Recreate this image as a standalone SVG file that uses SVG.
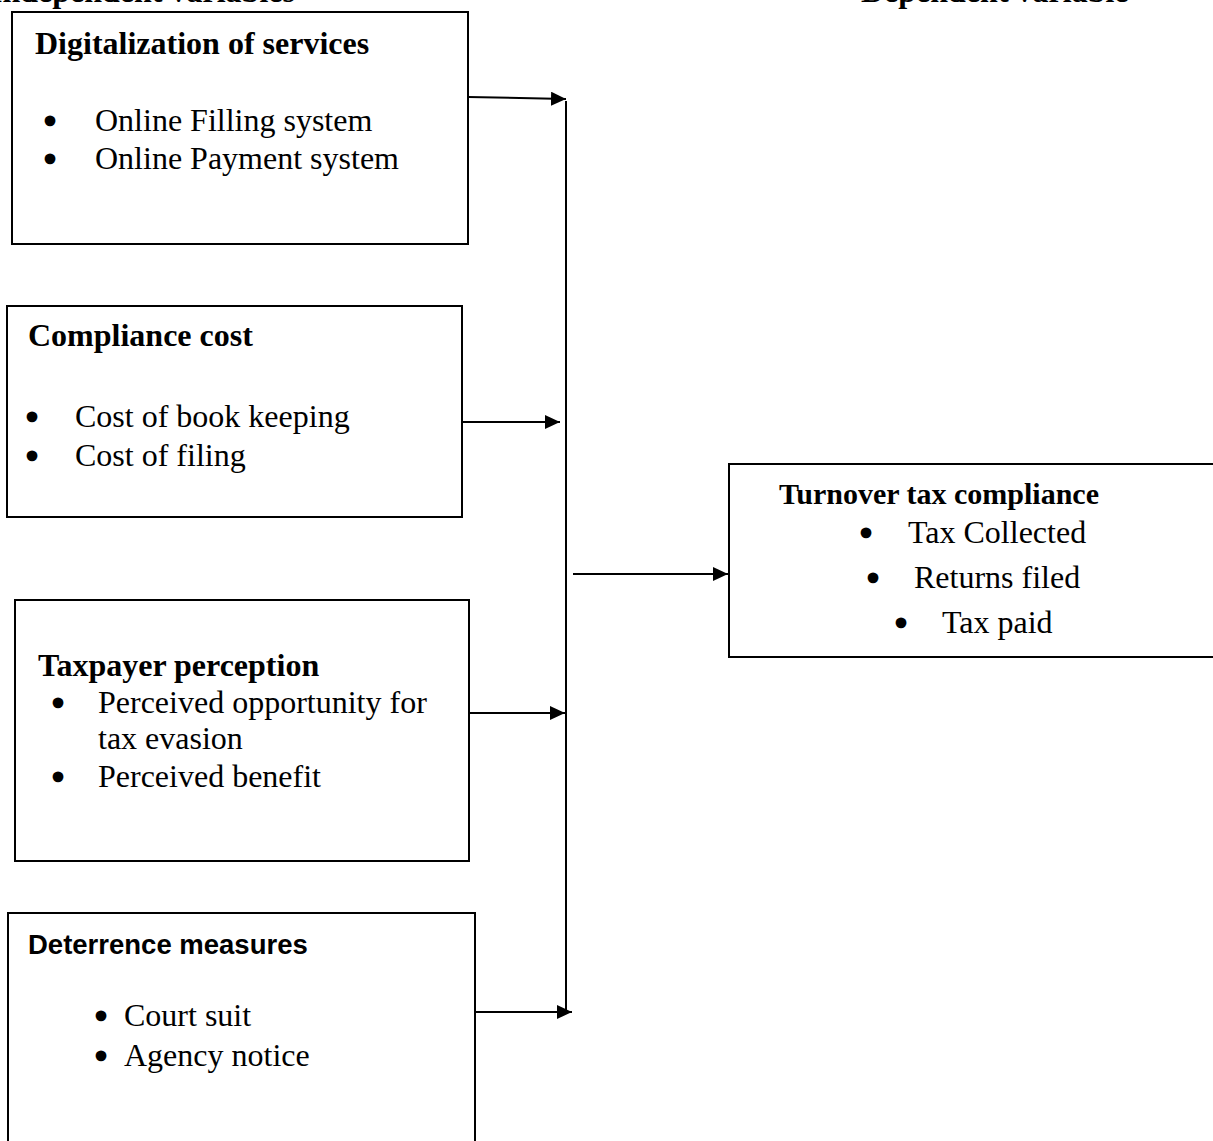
<svg xmlns="http://www.w3.org/2000/svg" width="1213" height="1141" viewBox="0 0 1213 1141">
<style>
  .box{fill:#fff;stroke:#000;stroke-width:2}
  .t{font-family:"Liberation Serif","Times New Roman",serif;font-size:32px;fill:#000}
  .b{font-weight:bold}
  .s{font-family:"Liberation Sans",Arial,sans-serif;font-size:27.5px;font-weight:bold;fill:#000}
  .bul{font-family:"DejaVu Sans",sans-serif;font-size:28px;fill:#000;stroke:#000;stroke-width:2.6;stroke-linejoin:round;text-anchor:middle}
  .c{fill:none;stroke:#000;stroke-width:2}
</style>
<defs>
  <marker id="ah" markerUnits="userSpaceOnUse" markerWidth="16" markerHeight="14" refX="15" refY="7" orient="auto">
    <path d="M0,0 L15,7 L0,14 z" fill="#000"/>
  </marker>
</defs>
<rect width="1213" height="1141" fill="#fff"/>
<g id="headers">
  <text class="t b" x="-10" y="2">Independent variables</text>
  <text class="t b" x="861" y="2">Dependent variable</text>
</g>
<g id="digitalization">
  <rect class="box" x="12" y="12" width="456" height="232"/>
  <text class="t b" x="35" y="54">Digitalization of services</text>
  <text class="bul" x="50" y="131">•</text>
  <text class="t" x="95" y="131">Online Filling system</text>
  <text class="bul" x="50" y="169">•</text>
  <text class="t" x="95" y="169">Online Payment system</text>
</g>
<g id="compliance-cost">
  <rect class="box" x="7" y="306" width="455" height="211"/>
  <text class="t b" x="28" y="346">Compliance cost</text>
  <text class="bul" x="32" y="427">•</text>
  <text class="t" x="75" y="427">Cost of book keeping</text>
  <text class="bul" x="32" y="466">•</text>
  <text class="t" x="75" y="466">Cost of filing</text>
</g>
<g id="taxpayer-perception">
  <rect class="box" x="15" y="600" width="454" height="261"/>
  <text class="t b" x="38" y="676">Taxpayer perception</text>
  <text class="bul" x="58" y="713">•</text>
  <text class="t" x="98" y="713">Perceived opportunity for</text>
  <text class="t" x="98" y="749">tax evasion</text>
  <text class="bul" x="58" y="787">•</text>
  <text class="t" x="98" y="787">Perceived benefit</text>
</g>
<g id="deterrence-measures">
  <path class="box" d="M8,1142 L8,913 L475,913 L475,1142"/>
  <text class="s" x="28" y="954">Deterrence measures</text>
  <text class="bul" x="101" y="1026">•</text>
  <text class="t" x="124" y="1026">Court suit</text>
  <text class="bul" x="101" y="1066">•</text>
  <text class="t" x="124" y="1066">Agency notice</text>
</g>
<g id="turnover-tax-compliance">
  <path class="box" d="M1214,464 L729,464 L729,657 L1214,657"/>
  <text class="t b" x="779" y="504" style="font-size:30px">Turnover tax compliance</text>
  <text class="bul" x="866" y="543">•</text>
  <text class="t" x="908" y="543">Tax Collected</text>
  <text class="bul" x="873" y="588">•</text>
  <text class="t" x="914" y="588">Returns filed</text>
  <text class="bul" x="901" y="633">•</text>
  <text class="t" x="942" y="633">Tax paid</text>
</g>
<g id="connectors">
  <line class="c" x1="566" y1="101" x2="566" y2="1010"/>
  <line class="c" x1="468" y1="97" x2="566" y2="99" marker-end="url(#ah)"/>
  <line class="c" x1="462" y1="422" x2="560" y2="422" marker-end="url(#ah)"/>
  <line class="c" x1="469" y1="713" x2="565" y2="713" marker-end="url(#ah)"/>
  <line class="c" x1="475" y1="1012" x2="572" y2="1012" marker-end="url(#ah)"/>
  <line class="c" x1="573" y1="574" x2="728" y2="574" marker-end="url(#ah)"/>
</g>
</svg>
